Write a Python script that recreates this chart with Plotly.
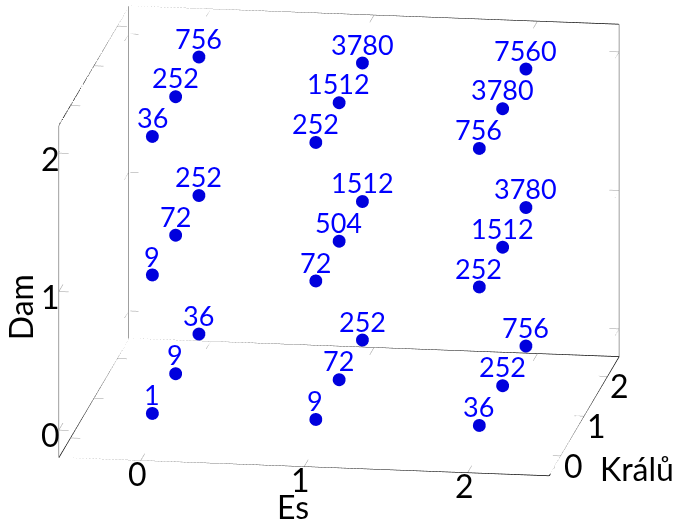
import plotly.graph_objects as go

# Grid of card counts
es = [0, 1, 2]
kralu = [0, 1, 2]
dam = [0, 1, 2]

# Number of arrangements, listed per Dam level, Es-major then Králů
counts_dam0 = [1, 9, 36, 9, 72, 252, 36, 252, 756]
counts_dam1 = [9, 72, 252, 72, 504, 1512, 252, 1512, 3780]
counts_dam2 = [36, 252, 756, 252, 1512, 3780, 756, 3780, 7560]

# Axis extents
x_range = [-0.5, 2.5]
y_range = [-0.5, 2.5]
z_range = [-0.2, 2.2]

levels = [counts_dam0, counts_dam1, counts_dam2]
xs, ys, zs, vals = [], [], [], []
for d, level in zip(dam, levels):
    i = 0
    for e in es:
        for k in kralu:
            xs.append(e)
            ys.append(k)
            zs.append(d)
            vals.append(level[i])
            i += 1

FONT = "Lato"
BLUE = "#0000ff"
TICK_SIZE = 32
LABEL_SIZE = 27

fig = go.Figure()

x0, x1 = x_range
y0, y1 = y_range
z0, z1 = z_range

# Frame of the three back walls
black_edges = [
    ([x0, x1], [y0, y0], [z0, z0]),
    ([x1, x1], [y0, y1], [z0, z0]),
    ([x0, x1], [y1, y1], [z0, z0]),
    ([x0, x0], [y0, y1], [z0, z0]),
    ([x0, x1], [y1, y1], [z1, z1]),
    ([x0, x0], [y0, y1], [z1, z1]),
]
gray_edges = [
    ([x0, x0], [y0, y0], [z0, z1]),
    ([x0, x0], [y1, y1], [z0, z1]),
    ([x1, x1], [y1, y1], [z0, z1]),
]
for edges, col in ((black_edges, "black"), (gray_edges, "#7f7f7f")):
    for ex, ey, ez in edges:
        fig.add_trace(go.Scatter3d(
            x=ex, y=ey, z=ez, mode="lines",
            line=dict(color=col, width=1.5),
            hoverinfo="skip", showlegend=False,
        ))

# Small inward tick marks on the frame edges
DX = 0.06   # tick length along x
DY = 0.18   # tick length along y
tx, ty, tz = [], [], []


def tick(p, d):
    tx.extend([p[0], p[0] + d[0], None])
    ty.extend([p[1], p[1] + d[1], None])
    tz.extend([p[2], p[2] + d[2], None])


for v in es:
    tick((v, y0, z0), (0, DY, 0))
    tick((v, y1, z0), (0, -DY, 0))
    tick((v, y1, z1), (0, -DY, 0))
for v in kralu:
    tick((x1, v, z0), (-DX, 0, 0))
    tick((x0, v, z0), (DX, 0, 0))
    tick((x0, v, z1), (DX, 0, 0))
for v in dam:
    tick((x0, y0, v), (DX, 0, 0))
    tick((x0, y0, v), (0, DY, 0))
    tick((x0, y1, v), (DX, 0, 0))
    tick((x0, y1, v), (0, -DY, 0))
    tick((x1, y1, v), (-DX, 0, 0))
    tick((x1, y1, v), (0, -DY, 0))

fig.add_trace(go.Scatter3d(
    x=tx, y=ty, z=tz, mode="lines",
    line=dict(color="#999999", width=1),
    hoverinfo="skip", showlegend=False, connectgaps=False,
))

# Data points
fig.add_trace(
    go.Scatter3d(
        x=xs, y=ys, z=zs,
        mode="markers",
        marker=dict(size=7.5, color="#0000dd", line=dict(width=0)),
        hoverinfo="skip",
        showlegend=False,
    )
)

axis_common = dict(
    showbackground=False,
    showgrid=False,
    zeroline=False,
    showline=False,
    ticks="",
    showticklabels=False,
    showspikes=False,
    tickmode="array",
    title=dict(text=""),
)

annotations = []

# Value labels above each point
label_font = dict(family=FONT, size=LABEL_SIZE, color=BLUE)
for px_, py_, pz_, v in zip(xs, ys, zs, vals):
    annotations.append(dict(x=px_, y=py_, z=pz_, text=str(v), showarrow=False,
                            xanchor="center", yanchor="bottom", yshift=0,
                            font=label_font))

tick_font = dict(family=FONT, size=TICK_SIZE, color="black")
for v in es:
    annotations.append(dict(x=v, y=y0, z=z0, text=str(v), showarrow=False,
                            xanchor="center", yanchor="top", xshift=-3, yshift=9,
                            font=tick_font))
for v in dam:
    annotations.append(dict(x=x0, y=y0, z=v, text=str(v), showarrow=False,
                            xanchor="right", yanchor="middle", xshift=3, yshift=-5,
                            font=tick_font))
for v in kralu:
    annotations.append(dict(x=x1, y=v, z=z0, text=str(v), showarrow=False,
                            xanchor="left", yanchor="top", xshift=1, yshift=12,
                            font=tick_font))
# Axis titles
annotations.append(dict(x=1, y=y0, z=z0, text="Es", showarrow=False,
                        xanchor="center", yanchor="middle", xshift=-11, yshift=-40,
                        font=tick_font))
annotations.append(dict(x=x0, y=y0, z=1, text="Dam", showarrow=False,
                        xanchor="center", yanchor="middle", xshift=-38, yshift=-16,
                        textangle=-90, font=tick_font))
annotations.append(dict(x=x1, y=0, z=z0, text="Králů", showarrow=False,
                        xanchor="left", yanchor="middle", xshift=37, yshift=-13,
                        font=tick_font))

fig.update_layout(
    width=680,
    height=522,
    margin=dict(l=0, r=0, t=0, b=0),
    paper_bgcolor="white",
    showlegend=False,
    scene=dict(
        domain=dict(x=[0.0132, 0.9832], y=[0.077, 1.0]),
        xaxis=dict(axis_common, range=x_range, tickvals=es),
        yaxis=dict(axis_common, range=y_range, tickvals=kralu),
        zaxis=dict(axis_common, range=z_range, tickvals=dam),
        aspectmode="manual",
        aspectratio=dict(x=2.057, y=1.998, z=1.4246),
        camera=dict(
            projection=dict(type="orthographic"),
            eye=dict(x=0.14054 * 1.9, y=-0.95798 * 1.9, z=0.2501 * 1.9),
            up=dict(x=0, y=0, z=1),
            center=dict(x=0, y=0, z=0),
        ),
        annotations=annotations,
    ),
)

fig.write_html("out.html")
